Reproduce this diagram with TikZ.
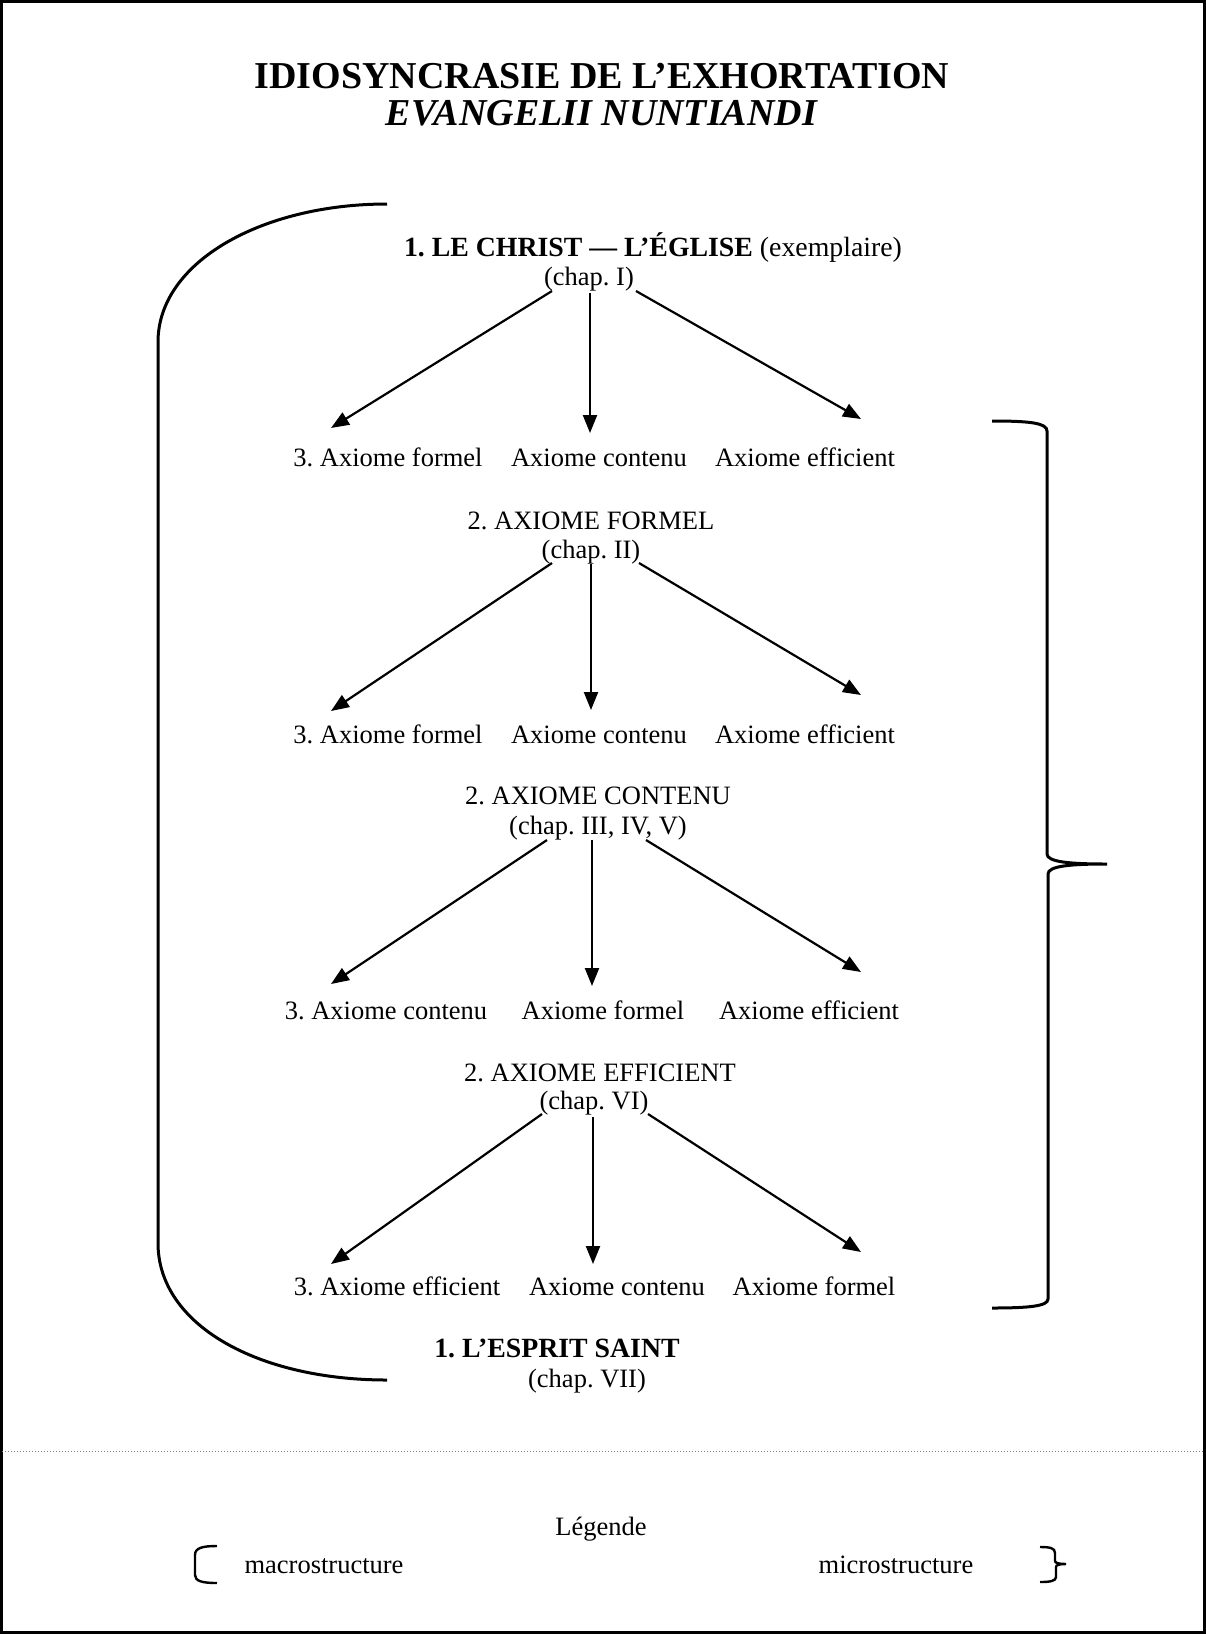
\documentclass[tikz,border=0pt]{standalone}
\usepackage{fontspec}
\setmainfont{Liberation Serif}
\usetikzlibrary{calc,arrows.meta}
\begin{document}
\frenchspacing
\begin{tikzpicture}[x=1pt,y=-1pt,
  txt/.style={inner sep=0pt, font=\frenchspacing\fontsize{26.5}{30}\selectfont, text height=18pt, text depth=0pt},
  big/.style={txt, font=\frenchspacing\fontsize{27.8}{30}\selectfont},
  ttl/.style={inner sep=0pt, font=\fontsize{38}{44}\selectfont, text height=25pt, text depth=0.5pt},
  arr/.style={line width=2.2pt, -{Triangle[length=18pt,width=14pt]}},
  brk/.style={line width=3pt},
]
\useasboundingbox (0,0) rectangle (1206,1634);
\draw[line width=2.5pt] (1.5,1.5) rectangle (1204.5,1632.5);

% title
\node[ttl] (t1) at (602,76) {\textbf{IDIOSYNCRASIE DE L’EXHORTATION}};
\node[ttl] (t2) at (602,113) {\textbf{\textit{EVANGELII NUNTIANDI}}};

% group 1
\node[big] (h1) at (653,247) {\textbf{1. LE CHRIST — L’ÉGLISE} (exemplaire)};
\node[txt] (c1) at (589,276) {(chap. I)};
\node[txt] (a1) at (388,457) {3. Axiome formel};
\node[txt] (b1) at (599,457) {Axiome contenu};
\node[txt] (d1) at (805,457) {Axiome efficient};
\draw[arr] ($(c1)+(-37,15)$) -- ($(a1)+(-57,-29)$);
\draw[arr] ($(c1)+(1,17)$) -- ($(b1)+(-9,-24)$);
\draw[arr] ($(c1)+(47,15)$) -- ($(d1)+(56,-38)$);

% group 2
\node[txt] (h2) at (591,520) {2. AXIOME FORMEL};
\node[txt] (c2) at (591,549) {(chap. II)};
\node[txt] (a2) at (388,734) {3. Axiome formel};
\node[txt] (b2) at (599,734) {Axiome contenu};
\node[txt] (d2) at (805,734) {Axiome efficient};
\draw[arr] ($(c2)+(-39,14)$) -- ($(a2)+(-57,-23)$);
\draw[arr] ($(c2)+(0,15)$) -- ($(b2)+(-8,-24)$);
\draw[arr] ($(c2)+(48,14)$) -- ($(d2)+(56,-39)$);

% group 3
\node[txt] (h3) at (598,795) {2. AXIOME CONTENU};
\node[txt] (c3) at (598,825) {(chap. III, IV, V)};
\node[txt] (a3) at (386,1010) {3. Axiome contenu};
\node[txt] (b3) at (603,1010) {Axiome formel};
\node[txt] (d3) at (809,1010) {Axiome efficient};
\draw[arr] ($(c3)+(-51,15)$) -- ($(a3)+(-55,-26)$);
\draw[arr] ($(c3)+(-6,15)$) -- ($(b3)+(-11,-24)$);
\draw[arr] ($(c3)+(48,15)$) -- ($(d3)+(52,-38)$);

% group 4
\node[txt] (h4) at (600,1072) {2. AXIOME EFFICIENT};
\node[txt] (c4) at (594,1100) {(chap. VI)};
\node[txt] (a4) at (397,1286) {3. Axiome efficient};
\node[txt] (b4) at (617,1286) {Axiome contenu};
\node[txt] (d4) at (814,1286) {Axiome formel};
\draw[arr] ($(c4)+(-52,14)$) -- ($(a4)+(-66,-22)$);
\draw[arr] ($(c4)+(-1,17)$) -- ($(b4)+(-24,-22)$);
\draw[arr] ($(c4)+(54,14)$) -- ($(d4)+(47,-34)$);

% bottom
\node[big] (h5) at (557,1348) {\textbf{1. L’ESPRIT SAINT}};
\node[txt] (c5) at (587,1378) {(chap. VII)};

% left macro bracket
\draw[brk] (387,204) .. controls (262,204) and (158,262) .. (158,342)
  -- (158,1243) .. controls (158,1325) and (258,1380) .. (387,1380);

% right micro brace
\draw[brk] (992,421) .. controls (1030,421) and (1047,423) .. (1047,431)
  -- (1047,854) .. controls (1047,862) and (1070,864) .. (1107,864)
  .. controls (1070,864) and (1048,866) .. (1048,874)
  -- (1048,1299) .. controls (1048,1306) and (1030,1308) .. (992,1308);

% separator
\draw[gray, line width=1pt, dotted] (2,1451) -- (1204,1451);

% legend
\node[txt] (lg) at (601,1526) {Légende};
\node[txt] (ma) at (324,1564) {macrostructure};
\node[txt] (mi) at (896,1564) {microstructure};
\draw[line width=2.4pt] (217,1546) .. controls (202,1546) and (195,1548) .. (195,1555)
  -- (195,1575) .. controls (195,1581) and (202,1583) .. (217,1583);
\draw[line width=2.4pt] (1040,1547) .. controls (1050,1547) and (1055,1548) .. (1055,1553)
  -- (1055,1561) .. controls (1055,1563) and (1059,1564) .. (1066,1564)
  .. controls (1059,1564) and (1056,1565) .. (1056,1567)
  -- (1056,1577) .. controls (1056,1581) and (1050,1582) .. (1040,1582);
\end{tikzpicture}
\end{document}
